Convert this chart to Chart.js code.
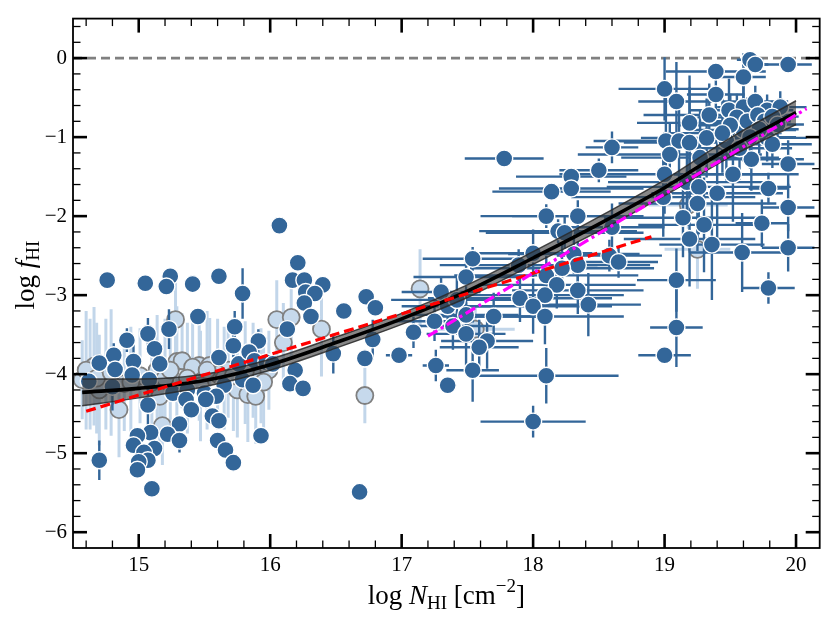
<!DOCTYPE html>
<html>
<head>
<meta charset="utf-8">
<script src="https://cdn.jsdelivr.net/npm/chart.js@4"></script>
<style>
  body { margin: 0; background: #fff; }
  canvas { display: block; }
</style>
</head>
<body>
<canvas id="fhiChart" width="830" height="623"></canvas>
<script>
// axis ticks
const xTicks = [15, 16, 17, 18, 19, 20];
const yTicks = [-6, -5, -4, -3, -2, -1, 0];

// dark blue measurements (log N, log f, x error, y error)
const darkX = [14.76, 15.05, 15.24, 15.21, 15.41, 15.61, 15.79, 15.45, 15.23, 15.07, 14.91, 15.73, 15.72, 15.91, 14.81, 14.70, 14.82, 14.96, 15.12, 15.16,
  14.95, 14.62, 14.80, 15.08, 15.26, 15.61, 15.76, 15.84, 15.88, 15.79, 15.87, 15.65, 15.50, 15.37, 15.59, 15.07, 15.36, 15.40, 15.51, 15.56,
  15.61, 15.31, 15.22, 15.31, 15.09, 14.99, 14.96, 15.12, 15.04, 15.07, 15.00, 14.99, 15.60, 15.66, 15.72, 15.93, 14.70, 15.10,
  16.07, 16.21, 16.17, 16.26, 16.40, 16.27, 16.34, 16.26, 16.31, 16.56, 16.73, 16.80, 16.48, 16.72, 16.78, 16.98, 17.09, 16.19, 16.15, 16.25,
  16.13, 15.97, 16.02, 16.68,
  17.78, 18.60, 18.50, 18.29, 18.29, 18.14, 18.10, 18.34, 18.19, 18.24, 18.60, 17.54, 18.00, 17.49, 17.89, 18.31, 18.34, 18.58, 18.65, 18.10,
  18.18, 18.34, 18.09, 17.90, 18.00, 18.42, 18.09, 17.30, 17.35, 17.49, 17.70, 17.25, 17.39, 17.49, 17.65, 17.59, 17.26, 17.54, 17.35, 18.10,
  18.00, 19.00, 19.09,
  19.65, 19.69, 19.94, 19.39, 19.60, 19.00, 19.39, 19.09, 19.49, 19.60, 19.69, 19.78, 19.88, 19.19, 19.01, 19.11, 19.19, 19.32, 19.47, 19.60,
  19.78, 19.82, 19.04, 19.27, 19.66, 19.94, 19.00, 19.52, 19.17, 19.26, 19.40, 19.79, 18.99, 19.25, 19.94, 19.14, 19.30, 19.74, 19.19, 19.36,
  19.59, 19.94, 19.09, 19.79,
  19.55, 19.63, 19.71, 19.76, 19.82, 19.72, 19.65, 19.57, 19.86, 19.50, 19.34, 19.44, 18.22, 17.42];
const darkY = [-2.81, -2.85, -2.76, -2.89, -2.86, -2.76, -2.98, -3.27, -3.43, -3.49, -3.57, -3.40, -3.64, -3.58, -3.76, -3.86, -3.94, -3.84, -3.68, -3.87,
  -4.01, -4.09, -4.16, -4.07, -4.24, -3.79, -3.87, -3.72, -3.83, -4.07, -4.14, -4.14, -4.24, -4.20, -4.28, -4.39, -4.32, -4.45, -4.32, -4.53,
  -4.59, -4.63, -4.76, -4.84, -4.74, -4.78, -4.90, -4.94, -4.99, -5.09, -5.11, -5.21, -4.84, -4.96, -5.12, -4.78, -5.09, -5.45,
  -2.12, -2.59, -2.81, -2.81, -2.87, -2.96, -2.98, -3.10, -3.27, -3.20, -3.02, -3.16, -3.74, -3.80, -3.56, -3.76, -3.47, -3.95, -4.12, -4.18,
  -3.43, -3.85, -3.87, -5.49,
  -1.27, -1.13, -1.42, -1.50, -1.65, -1.69, -2.00, -2.00, -2.19, -2.21, -2.14, -2.54, -2.47, -2.77, -2.62, -2.48, -2.62, -2.50, -2.58, -2.75,
  -2.87, -2.94, -3.00, -3.04, -3.14, -3.12, -3.27, -2.96, -3.14, -3.25, -3.27, -3.33, -3.39, -3.49, -3.58, -3.66, -3.89, -3.95, -4.14, -4.02,
  -4.60, -3.76, -3.41,
  -0.02, -0.08, -0.08, -0.17, -0.24, -0.39, -0.46, -0.55, -0.66, -0.62, -0.55, -0.66, -0.62, -0.82, -1.05, -1.05, -1.07, -1.01, -1.05, -0.91,
  -1.01, -1.09, -1.22, -1.26, -1.28, -1.34, -1.47, -1.47, -1.57, -1.63, -1.71, -1.65, -1.76, -1.84, -1.89, -2.02, -2.11, -2.09, -2.29, -2.36,
  -2.46, -2.40, -2.81, -2.91,
  -0.75, -0.80, -0.72, -0.80, -0.74, -0.90, -1.00, -1.14, -0.84, -0.85, -0.72, -0.95, -2.66, -3.06];
const darkXErr = [0, 0, 0, 0, 0, 0, 0, 0, 0, 0, 0, 0, 0, 0, 0, 0, 0, 0, 0, 0,
  0, 0, 0, 0, 0, 0, 0, 0, 0, 0, 0, 0, 0, 0, 0, 0, 0, 0, 0, 0,
  0, 0, 0, 0, 0, 0, 0, 0, 0, 0, 0, 0, 0, 0, 0, 0, 0, 0,
  0, 0, 0, 0, 0, 0, 0, 0, 0, 0, 0, 0, 0, 0, 0, 0.1, 0.05, 0, 0, 0,
  0, 0, 0, 0,
  0.3, 0.2, 0.3, 0.42, 0.55, 0.45, 0.5, 0.5, 0.6, 0.6, 0.4, 0.38, 0.45, 0.4, 0.6, 0.5, 0.55, 0.4, 0.3, 0.7,
  0.6, 0.5, 0.6, 0.7, 0.6, 0.4, 0.6, 0.3, 0.35, 0.4, 0.4, 0.3, 0.3, 0.3, 0.35, 0.3, 0.1, 0.2, 0, 0.55,
  0.4, 0.2, 0.2,
  0.1, 0.1, 0.18, 0.38, 0.17, 0.35, 0.22, 0.29, 0.3, 0.2, 0.25, 0.2, 0.2, 0.4, 0.55, 0.5, 0.5, 0.5, 0.4, 0.4,
  0.3, 0.3, 0.7, 0.6, 0.4, 0.2, 0.8, 0.5, 0.6, 0.7, 0.5, 0.15, 0.7, 0.6, 0.2, 0.6, 0.5, 0.2, 0.5, 0.4,
  0.4, 0.2, 0.3, 0.2,
  0.3, 0.3, 0.25, 0.2, 0.2, 0.3, 0.35, 0.4, 0.2, 0.4, 0.5, 0.45, 0.7, 0.5];
const darkYErr = [0.1, 0.1, 0.1, 0.1, 0.1, 0.1, 0.32, 0.1, 0.25, 0.2, 0.15, 0.2, 0.15, 0.15, 0.15, 0.1, 0.15, 0.25, 0.1, 0.1,
  0.1, 0.1, 0.3, 0.1, 0.1, 0.1, 0.1, 0.1, 0.1, 0.1, 0.1, 0.1, 0.1, 0.1, 0.1, 0.25, 0.1, 0.1, 0.1, 0.1,
  0.1, 0.1, 0.1, 0.15, 0.1, 0.1, 0.1, 0.1, 0.1, 0.1, 0.1, 0.1, 0.1, 0.1, 0.1, 0.1, 0.25, 0.1,
  0.1, 0.1, 0.1, 0.1, 0.1, 0.1, 0.1, 0.1, 0.1, 0.1, 0.1, 0.1, 0.25, 0.1, 0.25, 0.05, 0.2, 0.1, 0.1, 0.1,
  0.1, 0.1, 0.1, 0.1,
  0.1, 0.2, 0.15, 0.1, 0.1, 0.1, 0.15, 0.2, 0.15, 0.2, 0.3, 0.15, 0.3, 0.2, 0.2, 0.25, 0.3, 0.2, 0.2, 0.25,
  0.3, 0.3, 0.3, 0.3, 0.35, 0.4, 0.35, 0.2, 0.2, 0.3, 0.3, 0.25, 0.3, 0.4, 0.35, 0.35, 0.2, 0.4, 0.05, 0.35,
  0.2, 0.1, 0.5,
  0.05, 0.1, 0.05, 0.1, 0.3, 0.4, 0.2, 0.5, 0.4, 0.3, 0.2, 0.2, 0.2, 0.6, 0.6, 0.5, 0.7, 0.5, 0.5, 0.4,
  0.3, 0.3, 0.4, 0.6, 0.4, 0.3, 0.5, 0.6, 0.5, 0.6, 0.7, 0.2, 0.5, 0.6, 0.3, 0.5, 0.6, 0.3, 0.6, 0.7,
  0.5, 0.3, 0.4, 0.2,
  0.3, 0.3, 0.2, 0.2, 0.2, 0.3, 0.4, 0.4, 0.2, 0.4, 0.4, 0.5, 0.3, 0.3];

// light blue measurements
const lightX = [15.28, 16.05, 16.16, 16.39, 15.29, 15.46, 14.57, 14.70, 14.85, 15.16, 15.18, 15.75, 15.83, 15.89, 15.87, 16.72, 17.14, 17.56, 19.18, 19.25,
  15.33, 15.41, 15.54, 15.68, 15.01, 14.89, 15.93, 15.99, 14.63, 14.66, 14.75, 15.10, 15.14, 15.60, 15.65, 15.95, 15.20, 15.47,
  14.60, 14.68, 14.79, 14.94, 15.24, 15.37, 15.52, 15.72, 15.81, 16.10];
const lightY = [-3.31, -3.31, -3.28, -3.43, -3.84, -3.89, -4.07, -4.20, -4.45, -4.28, -4.65, -4.20, -4.26, -4.28, -3.95, -4.27, -2.92, -3.43, -1.86, -2.42,
  -3.83, -3.91, -3.89, -3.95, -4.02, -4.12, -4.02, -3.95, -4.00, -3.90, -4.00, -4.10, -3.95, -4.00, -4.05, -4.10, -4.05, -4.15,
  -3.95, -4.05, -3.98, -4.10, -3.95, -4.05, -3.95, -4.02, -3.98, -3.60];
const lightXErr = [0, 0, 0, 0, 0, 0, 0, 0, 0, 0, 0, 0, 0, 0, 0, 0, 0, 0.3, 0.3, 0.25,
  0, 0, 0, 0, 0, 0, 0, 0, 0, 0, 0, 0, 0, 0, 0, 0, 0, 0,
  0, 0, 0, 0, 0, 0, 0, 0, 0, 0];
const lightYErr = [0.6, 0.5, 0.5, 0.6, 0.7, 0.7, 0.5, 0.7, 0.6, 0.6, 0.5, 0.6, 0.6, 0.6, 0.6, 0.35, 0.5, 0.3, 0.3, 0.5,
  0.6, 0.6, 0.6, 0.6, 0.6, 0.6, 0.6, 0.5, 0.7, 0.75, 0.7, 0.65, 0.7, 0.7, 0.65, 0.6, 0.75, 0.7,
  0.75, 0.7, 0.8, 0.7, 0.75, 0.7, 0.75, 0.7, 0.65, 0.5];

// fitted relation with its band
const fitX = [14.57, 15.0, 15.5, 16.0, 16.5, 17.0, 17.5, 18.0, 18.5, 19.0, 19.5, 20.0];
const fitY = [-4.23, -4.18, -4.08, -3.88, -3.60, -3.30, -2.95, -2.53, -2.10, -1.64, -1.13, -0.69];
const bandHi = [-4.06, -4.06, -4.00, -3.81, -3.53, -3.23, -2.87, -2.45, -2.01, -1.54, -1.01, -0.54];
const bandLo = [-4.40, -4.30, -4.16, -3.95, -3.67, -3.37, -3.03, -2.61, -2.19, -1.74, -1.25, -0.84];

// straight relations
const redX = [14.6, 18.9];
const redY = [-4.47, -2.26];
const magX = [17.2, 20.08];
const magY = [-3.52, -0.64];
const zeroX = [14.5, 20.18];
const zeroY = [0, 0];

const serif = "'Liberation Serif', 'Times New Roman', serif";
const pts = (xs, ys) => xs.map((v, i) => ({ x: v, y: ys[i] }));

// error bars drawn just before their own dataset
const errorBars = {
    id: 'errorBars',
    beforeDatasetDraw(chart, args) {
        const ds = chart.data.datasets[args.index];
        if (!ds.errY) return;
        const { ctx, chartArea: a } = chart;
        const x = chart.scales.x, y = chart.scales.y;
        ctx.save();
        ctx.beginPath();
        ctx.rect(a.left, a.top, a.right - a.left, a.bottom - a.top);
        ctx.clip();
        ctx.strokeStyle = ds.errColor;
        ctx.lineWidth = ds.errWidth;
        ds.data.forEach((p, i) => {
            const px = x.getPixelForValue(p.x);
            const py = y.getPixelForValue(p.y);
            ctx.beginPath();
            if (ds.errX[i]) {
                ctx.moveTo(x.getPixelForValue(p.x - ds.errX[i]), py);
                ctx.lineTo(x.getPixelForValue(p.x + ds.errX[i]), py);
            }
            if (ds.errY[i]) {
                ctx.moveTo(px, y.getPixelForValue(p.y - ds.errY[i]));
                ctx.lineTo(px, y.getPixelForValue(p.y + ds.errY[i]));
            }
            ctx.stroke();
        });
        ctx.restore();
    }
};

function drawRich(ctx, parts, cx, cy) {
    let w = 0;
    parts.forEach(p => { ctx.font = p.font; p.w = ctx.measureText(p.t).width; w += p.w; });
    let px = cx - w / 2;
    parts.forEach(p => { ctx.font = p.font; ctx.fillText(p.t, px, cy + (p.dy || 0)); px += p.w; });
}

// white background, inward ticks on all sides, frame and axis titles
const frame = {
    id: 'frame',
    beforeDraw(chart) {
        const ctx = chart.ctx;
        ctx.save();
        ctx.fillStyle = '#fff';
        ctx.fillRect(0, 0, chart.width, chart.height);
        ctx.restore();
    },
    afterDraw(chart) {
        const { ctx, chartArea: a } = chart;
        const x = chart.scales.x, y = chart.scales.y;
        ctx.save();
        ctx.strokeStyle = '#000';
        const seg = (x1, y1, x2, y2) => { ctx.beginPath(); ctx.moveTo(x1, y1); ctx.lineTo(x2, y2); ctx.stroke(); };

        ctx.lineWidth = 1.3;
        for (let k = 73; k <= 101; k++) {
            const v = k / 5;
            if (k % 5 === 0 || v >= x.max) continue;
            const p = x.getPixelForValue(v);
            seg(p, a.bottom, p, a.bottom - 7.5);
            seg(p, a.top, p, a.top + 7.5);
        }
        for (let k = -30; k <= 2; k++) {
            const v = k / 5;
            if (k % 5 === 0) continue;
            const p = y.getPixelForValue(v);
            seg(a.left, p, a.left + 7.5, p);
            seg(a.right, p, a.right - 7.5, p);
        }
        ctx.lineWidth = 2.6;
        xTicks.forEach(v => {
            const p = x.getPixelForValue(v);
            seg(p, a.bottom, p, a.bottom - 14);
            seg(p, a.top, p, a.top + 14);
        });
        yTicks.forEach(v => {
            const p = y.getPixelForValue(v);
            seg(a.left, p, a.left + 14, p);
            seg(a.right, p, a.right - 14, p);
        });
        ctx.lineWidth = 1.8;
        ctx.strokeRect(a.left, a.top, a.right - a.left, a.bottom - a.top);

        ctx.fillStyle = '#000';
        ctx.textAlign = 'left';
        ctx.textBaseline = 'alphabetic';
        const big = '27px ' + serif, bigIt = 'italic 27px ' + serif, small = '19px ' + serif;
        drawRich(ctx, [
            { t: 'log ', font: big },
            { t: 'N', font: bigIt },
            { t: 'HI', font: small, dy: 5 },
            { t: ' [cm', font: big },
            { t: '\u22122', font: small, dy: -12 },
            { t: ']', font: big }
        ], (a.left + a.right) / 2, 604);

        ctx.translate(34, 275);
        ctx.rotate(-Math.PI / 2);
        drawRich(ctx, [
            { t: 'log ', font: big },
            { t: 'f', font: bigIt },
            { t: 'HI', font: small, dy: 5 }
        ], 0, 0);
        ctx.restore();
    }
};

const ctx = document.getElementById('fhiChart').getContext('2d');
const fhiChart = new Chart(ctx, {
    type: 'scatter',
    data: {
        datasets: [{
            type: 'line', data: pts(magX, magY), borderColor: '#ff00ff', borderWidth: 3.2,
            borderDash: [11, 4, 3, 4], pointRadius: 0, order: 1
        }, {
            type: 'line', data: pts(redX, redY), borderColor: '#ff0000', borderWidth: 3.2,
            borderDash: [10, 5], pointRadius: 0, order: 2
        }, {
            type: 'line', data: pts(fitX, fitY), borderColor: '#000', borderWidth: 3.6,
            cubicInterpolationMode: 'monotone', pointRadius: 0, order: 3
        }, {
            type: 'line', data: pts(fitX, bandLo), borderColor: 'rgba(40,40,40,0.85)', borderWidth: 1.5,
            cubicInterpolationMode: 'monotone', pointRadius: 0, fill: false, order: 4
        }, {
            type: 'line', data: pts(fitX, bandHi), borderColor: 'rgba(40,40,40,0.85)', borderWidth: 1.5,
            cubicInterpolationMode: 'monotone', pointRadius: 0, fill: '-1',
            backgroundColor: 'rgba(55,55,55,0.6)', order: 4
        }, {
            data: pts(darkX, darkY), pointRadius: 8.5, pointHoverRadius: 8.5,
            backgroundColor: '#336699', borderColor: '#ffffff', borderWidth: 1.4,
            errX: darkXErr, errY: darkYErr, errColor: '#336699', errWidth: 2.4, order: 5
        }, {
            data: pts(lightX, lightY), pointRadius: 8.5, pointHoverRadius: 8.5,
            backgroundColor: '#c6d9ec', borderColor: '#808080', borderWidth: 1.8,
            errX: lightXErr, errY: lightYErr, errColor: '#c2d6ea', errWidth: 3, order: 6
        }, {
            type: 'line', data: pts(zeroX, zeroY), borderColor: '#808080', borderWidth: 2.6,
            borderDash: [9, 5], pointRadius: 0, order: 7
        }]
    },
    options: {
        responsive: false,
        animation: false,
        devicePixelRatio: 1,
        layout: { padding: { left: 0, right: 10, top: 8, bottom: 0 } },
        plugins: { legend: { display: false }, tooltip: { enabled: false } },
        scales: {
            x: {
                type: 'linear', min: 14.5, max: 20.18,
                grid: { display: false, drawTicks: false },
                border: { display: false },
                ticks: { font: { family: serif, size: 21 }, color: '#000', padding: 5, maxRotation: 0, autoSkip: false },
                afterBuildTicks: s => { s.ticks = xTicks.map(v => ({ value: v })); },
                afterFit: s => { s.height = 75; }
            },
            y: {
                type: 'linear', min: -6.2, max: 0.5,
                grid: { display: false, drawTicks: false },
                border: { display: false },
                ticks: {
                    font: { family: serif, size: 21 }, color: '#000', padding: 6, autoSkip: false,
                    callback: v => v < 0 ? '\u2212' + (-v) : String(v)
                },
                afterBuildTicks: s => { s.ticks = yTicks.map(v => ({ value: v })); },
                afterFit: s => { s.width = 73; }
            }
        }
    },
    plugins: [errorBars, frame]
});
</script>
</body>
</html>
